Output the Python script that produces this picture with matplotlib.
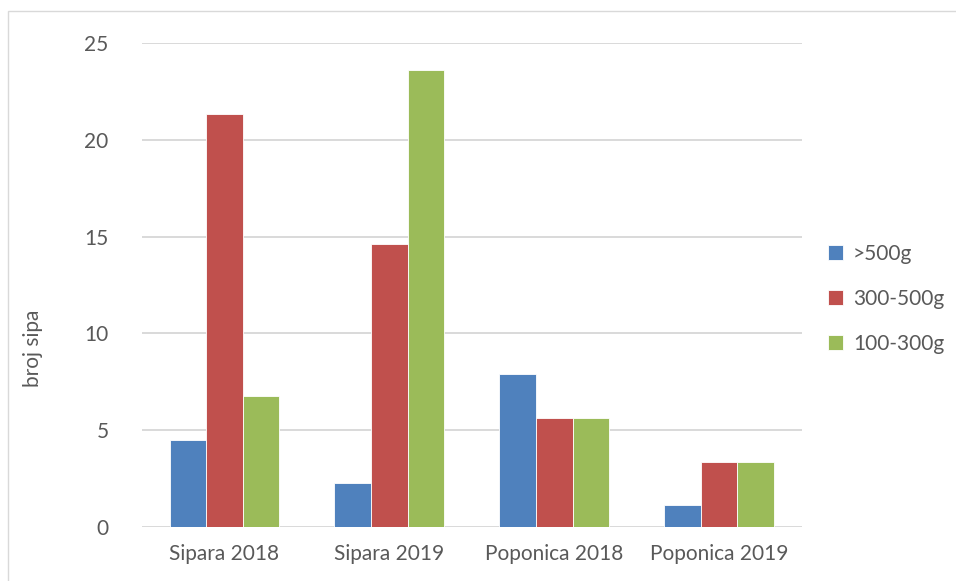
import matplotlib
matplotlib.use("Agg")
import matplotlib.pyplot as plt
import numpy as np
from matplotlib.patches import Rectangle

categories = ["Sipara 2018", "Sipara 2019", "Poponica 2018", "Poponica 2019"]
series_names = [">500g", "300-500g", "100-300g"]
over_500 = [4.5, 2.25, 7.9, 1.12]
mid_300_500 = [21.35, 14.6, 5.63, 3.36]
small_100_300 = [6.75, 23.6, 5.63, 3.36]
colors = ["#4F81BD", "#C0504D", "#9BBB59"]
text_color = "#595959"

plt.rcParams["font.family"] = ["Lato", "DejaVu Sans"]

fig = plt.figure(figsize=(9.56, 5.81), dpi=100)
ax = fig.add_axes([0.1485, 0.0929, 0.690, 0.833])

# cadre gris autour du graphique
fig.patches.append(Rectangle((0.008, -0.05), 1.1, 1.031, transform=fig.transFigure,
                             fill=False, edgecolor="#D9D9D9", linewidth=1.0))

x = np.arange(len(categories))
w = 0.222
for i, (vals, name) in enumerate(zip([over_500, mid_300_500, small_100_300], series_names)):
    ax.bar(x + (i - 1) * w, vals, width=w, color=colors[i], edgecolor="white",
           linewidth=0.6, label=name, zorder=3)

ax.set_xlim(-0.5, len(categories) - 0.5)
ax.set_ylim(0, 25)
ax.set_yticks([0, 5, 10, 15, 20, 25])
ax.set_xticks(x)
ax.set_xticklabels(categories)
ax.grid(axis="y", color="#D9D9D9", linewidth=1.4, zorder=0)
ax.tick_params(length=0, labelsize=15, colors=text_color)
ax.tick_params(axis="y", pad=24)
ax.tick_params(axis="x", pad=12)
for s in ax.spines.values():
    s.set_visible(False)

fig.text(0.035, 0.40, "broj sipa", rotation=90, ha="center", va="center",
         fontsize=15, color=text_color)

leg = ax.legend(loc="upper left", bbox_to_anchor=(1.028, 0.602), frameon=False,
                fontsize=15, handlelength=0.72, handleheight=0.72,
                labelspacing=1.2, handletextpad=0.45, borderaxespad=0.0)
for t in leg.get_texts():
    t.set_color(text_color)

fig.savefig("out.png", dpi=100)
